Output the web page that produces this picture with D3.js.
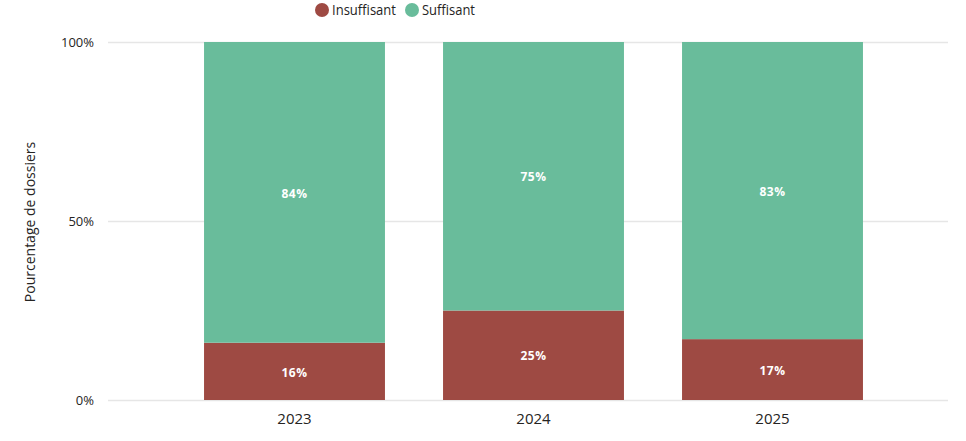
<!DOCTYPE html>
<html>
<head>
<meta charset="utf-8">
<script src="https://cdn.jsdelivr.net/npm/d3@7"></script>
<style>
  body { margin: 0; background: #fff; }
  svg text { font-family: "Open Sans", "Noto Sans", sans-serif; }
</style>
</head>
<body>
<div id="chart"></div>
<script>
var years = ["2023", "2024", "2025"]
var insuffisant = [16, 25, 17]
var suffisant = [84, 75, 83]
var seriesNames = ["Insuffisant", "Suffisant"]
var yTicks = [0, 50, 100]

var colors = { Insuffisant: "#9e4a43", Suffisant: "#69bc9b" }

var w = 966, h = 441

var svg = d3.select("#chart")
  .append("svg")
  .attr("width", w)
  .attr("height", h)

var rows = years.map(function (y, i) {
  return { year: y, Insuffisant: insuffisant[i], Suffisant: suffisant[i] }
})

var x = d3.scaleBand()
  .domain(years)
  .range([175, 892])
  .paddingInner(0.243)
  .paddingOuter(0.1215)

var y = d3.scaleLinear()
  .domain([0, 100])
  .range([400, 42])

// gridlines
svg.append("g")
  .selectAll("line")
  .data(yTicks)
  .enter()
  .append("line")
  .attr("x1", 108)
  .attr("x2", 948)
  .attr("y1", function (d) { return y(d) + 0.5 })
  .attr("y2", function (d) { return y(d) + 0.5 })
  .style("stroke", "#e6e6e6")
  .style("stroke-width", 1.5)

// y tick labels
svg.append("g")
  .selectAll("text")
  .data(yTicks)
  .enter()
  .append("text")
  .attr("x", 94)
  .attr("y", function (d) { return y(d) })
  .attr("dy", "0.35em")
  .attr("text-anchor", "end")
  .style("font-size", "13px")
  .style("fill", "#252423")
  .text(function (d) { return d + "%" })

// y axis title
svg.append("text")
  .attr("transform", "translate(35,222) rotate(-90)")
  .attr("text-anchor", "middle")
  .style("font-size", "14px")
  .style("fill", "#252423")
  .text("Pourcentage de dossiers")

// x labels
svg.append("g")
  .selectAll("text")
  .data(years)
  .enter()
  .append("text")
  .attr("x", function (d) { return x(d) + x.bandwidth() / 2 })
  .attr("y", 424)
  .attr("text-anchor", "middle")
  .style("font-size", "15px")
  .style("fill", "#252423")
  .text(function (d) { return d })

var stacked = d3.stack().keys(seriesNames)(rows)

var layers = svg.append("g")
  .selectAll("g")
  .data(stacked)
  .enter()
  .append("g")
  .style("fill", function (d) { return colors[d.key] })

layers.selectAll("rect")
  .data(function (d) { return d })
  .enter()
  .append("rect")
  .attr("x", function (d) { return x(d.data.year) })
  .attr("width", x.bandwidth())
  .attr("y", function (d) { return y(d[1]) })
  .attr("height", function (d) { return y(d[0]) - y(d[1]) })

layers.selectAll("text")
  .data(function (d) { return d })
  .enter()
  .append("text")
  .attr("x", function (d) { return x(d.data.year) + x.bandwidth() / 2 })
  .attr("y", function (d) { return (y(d[0]) + y(d[1])) / 2 + 1 })
  .attr("dy", "0.35em")
  .attr("text-anchor", "middle")
  .style("fill", "#ffffff")
  .style("font-size", "12px")
  .style("font-weight", "bold")
  .style("letter-spacing", "0.5px")
  .text(function (d) { return (d[1] - d[0]) + "%" })

// legend
var legendPos = [{ name: "Insuffisant", cx: 322, len: 64 }, { name: "Suffisant", cx: 412, len: 53 }]
var legend = svg.append("g")
  .selectAll("g")
  .data(legendPos)
  .enter()
  .append("g")

legend.append("circle")
  .attr("cx", function (d) { return d.cx })
  .attr("cy", 10)
  .attr("r", 7)
  .style("fill", function (d) { return colors[d.name] })

legend.append("text")
  .attr("x", function (d) { return d.cx + 10 })
  .attr("y", 10)
  .attr("dy", "0.35em")
  .attr("textLength", function (d) { return d.len })
  .attr("lengthAdjust", "spacingAndGlyphs")
  .style("font-size", "14px")
  .style("fill", "#252423")
  .text(function (d) { return d.name })
</script>
</body>
</html>
